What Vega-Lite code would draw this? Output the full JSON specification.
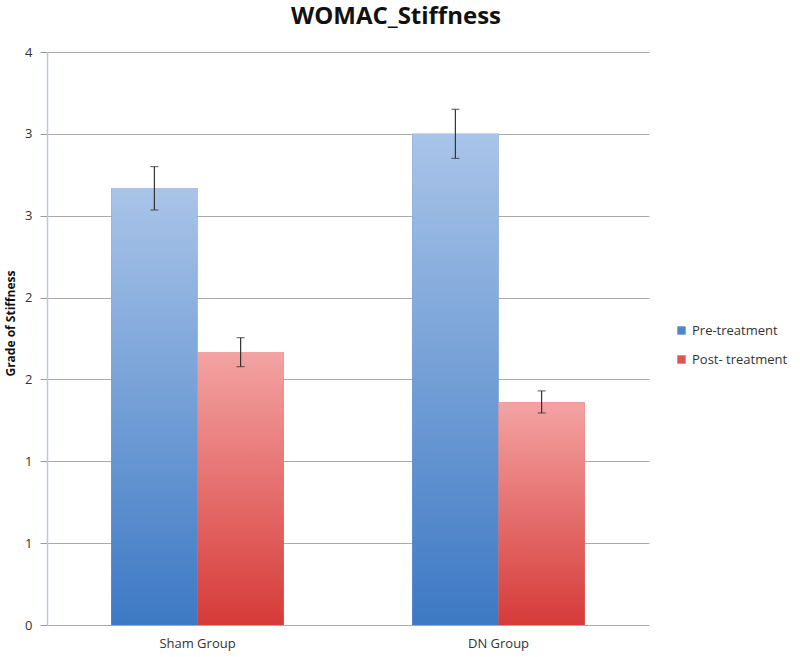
{
  "$schema": "https://vega.github.io/schema/vega-lite/v6.json",
  "autosize": "none",
  "width": 602,
  "height": 573,
  "padding": {"left": 47, "top": 52, "right": 151, "bottom": 32},
  "background": "white",
  "title": {"text": "WOMAC_Stiffness", "fontSize": 24, "fontWeight": "bold", "font": "Open Sans", "color": "#111", "anchor": "middle", "offset": 17, "dx": 48},
  "config": {
    "view": {"stroke": null},
    "font": "Open Sans"
  },
  "data": {
    "values": [
      {"group": "Sham  Group", "series": "Pre-treatment", "value": 2.67, "lo": 2.535, "hi": 2.80},
      {"group": "Sham  Group", "series": "Post- treatment", "value": 1.667, "lo": 1.578, "hi": 1.755},
      {"group": "DN Group", "series": "Pre-treatment", "value": 3.0, "lo": 2.85, "hi": 3.15},
      {"group": "DN Group", "series": "Post- treatment", "value": 1.36, "lo": 1.295, "hi": 1.43}
    ]
  },
  "encoding": {
    "x": {
      "field": "group", "type": "nominal", "sort": ["Sham  Group", "DN Group"],
      "scale": {"paddingInner": 0.427, "paddingOuter": 0.2135},
      "axis": {"title": null, "labelAngle": 0, "ticks": false, "domain": false, "labelFontSize": 13, "labelColor": "#333", "labelPadding": 12}
    },
    "xOffset": {"field": "series", "type": "nominal", "sort": ["Pre-treatment", "Post- treatment"], "scale": {"paddingInner": 0, "paddingOuter": 0}},
    "y": {
      "field": "value", "type": "quantitative",
      "scale": {"domain": [0, 3.5], "nice": false},
      "axis": {
        "title": "Grade of Stiffness", "titleFontSize": 12, "titleFontWeight": "bold", "titleColor": "#111", "titlePadding": 7, "titleY": 271,
        "values": [0, 0.5, 1, 1.5, 2, 2.5, 3, 3.5], "format": ".0f",
        "labelFontSize": 13, "labelColor": "#333", "labelPadding": 8,
        "tickSize": 7, "tickColor": "#999", "domainColor": "#b9c9d9", "domainWidth": 1.5,
        "gridColor": "#aaaaaa", "gridWidth": 1.2
      }
    }
  },
  "layer": [
    {
      "mark": {"type": "bar"},
      "encoding": {
        "color": {
          "field": "series", "type": "nominal",
          "scale": {"domain": ["Pre-treatment", "Post- treatment"], "range": ["#4f86cc", "#e05553"]},
          "legend": {"title": null, "orient": "none", "legendX": 628, "legendY": 272, "symbolType": "square", "symbolSize": 70, "labelFontSize": 13, "labelColor": "#333", "rowPadding": 15, "symbolStrokeWidth": 0}
        }
      }
    },
    {
      "transform": [{"filter": "datum.series === 'Pre-treatment'"}],
      "mark": {"type": "bar", "color": {"gradient": "linear", "x1": 0, "y1": 0, "x2": 0, "y2": 1, "stops": [{"offset": 0, "color": "#a9c4e8"}, {"offset": 1, "color": "#3d79c4"}]}}
    },
    {
      "transform": [{"filter": "datum.series === 'Post- treatment'"}],
      "mark": {"type": "bar", "color": {"gradient": "linear", "x1": 0, "y1": 0, "x2": 0, "y2": 1, "stops": [{"offset": 0, "color": "#f3a3a3"}, {"offset": 1, "color": "#d63b38"}]}}
    },
    {
      "mark": {"type": "rule", "color": "#333", "strokeWidth": 1.2},
      "encoding": {"y": {"field": "lo", "type": "quantitative"}, "y2": {"field": "hi"}}
    },
    {
      "mark": {"type": "tick", "color": "#333", "size": 8, "thickness": 1.2, "orient": "horizontal"},
      "encoding": {"y": {"field": "hi", "type": "quantitative"}}
    },
    {
      "mark": {"type": "tick", "color": "#333", "size": 8, "thickness": 1.2, "orient": "horizontal"},
      "encoding": {"y": {"field": "lo", "type": "quantitative"}}
    }
  ]
}
